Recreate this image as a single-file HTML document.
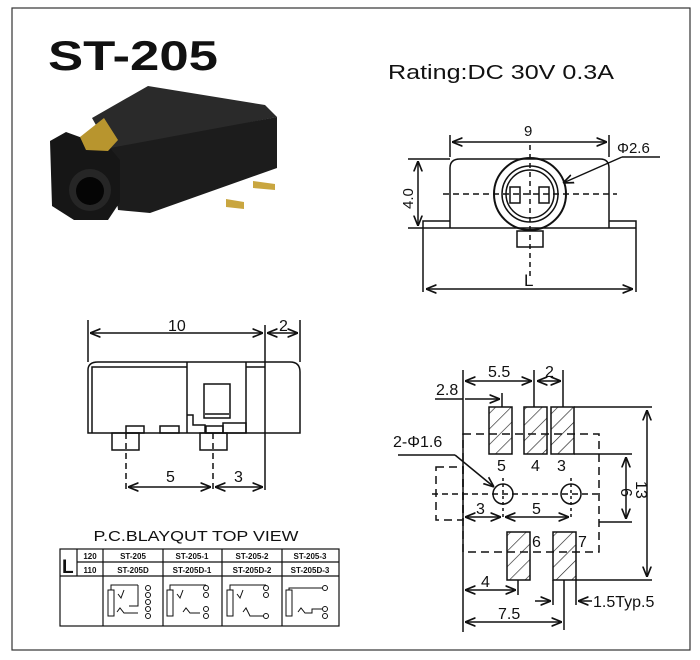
<!DOCTYPE html>
<html><head><meta charset="utf-8"><style>
html,body{margin:0;padding:0;background:#fff}
svg{display:block}
text{font-family:"Liberation Sans",Arial,sans-serif;fill:#111}
</style></head><body>
<svg width="700" height="660" viewBox="0 0 700 660" xmlns="http://www.w3.org/2000/svg">
<defs>
<marker id="a" viewBox="0 0 10 10" refX="10" refY="5" markerWidth="7" markerHeight="7" orient="auto-start-reverse"><path d="M0,1 L10,5 L0,9" fill="none" stroke="#111" stroke-width="1.6"/></marker>
<pattern id="h" width="11" height="11" patternUnits="userSpaceOnUse" patternTransform="rotate(45)"><line x1="0" y1="0" x2="0" y2="11" stroke="#222" stroke-width="1.3"/></pattern>
</defs>
<rect x="12" y="8" width="678" height="642" fill="none" stroke="#333" stroke-width="1.2"/>
<text x="48" y="70" font-size="42" font-weight="bold" textLength="170" lengthAdjust="spacingAndGlyphs">ST-205</text>
<text x="388" y="79" font-size="20" textLength="226" lengthAdjust="spacingAndGlyphs">Rating:DC 30V 0.3A</text>

<!-- photo -->
<g>
<polygon points="92,118 148,86 265,105 277,117 110,150" fill="#2a2a2a"/>
<polygon points="110,148 277,117 277,168 150,213 118,210" fill="#1c1c1c"/>
<polygon points="50,141 66,132 110,148 120,160 120,202 108,220 74,220 52,206" fill="#161616"/>
<polygon points="80,137 104,118 118,140 108,151 86,150" fill="#b8952e"/>
<circle cx="90" cy="190" r="21" fill="#262626"/>
<circle cx="90" cy="191" r="14" fill="#050505"/>
<polygon points="253,181 275,184 275,190 253,188" fill="#c9a640"/>
<polygon points="226,199 244,202 244,209 226,207" fill="#c9a640"/>
</g>

<!-- top-right view -->
<g stroke="#111" stroke-width="1.5" fill="none">
<path d="M450,228 V168 Q450,159 460,159 H600 Q609,159 609,168 V228"/>
<path d="M423,228 V221 H450 M609,221 H636 V228"/>
<path d="M423,228 H636 M423,228 V292 M636,228 V292"/>
<circle cx="530" cy="194" r="36" stroke-width="2"/>
<circle cx="530" cy="194" r="28"/>
<circle cx="530" cy="194" r="24"/>
<rect x="510" y="187" width="10" height="16"/>
<rect x="539" y="187" width="10" height="16"/>
<rect x="517" y="231" width="26" height="16"/>
<path d="M450,135 V157 M609,135 V157"/>
<line x1="452" y1="142" x2="607" y2="142" marker-start="url(#a)" marker-end="url(#a)"/>
<path d="M408,159 H450 M408,228 H423"/>
<line x1="418" y1="161" x2="418" y2="226" marker-start="url(#a)" marker-end="url(#a)"/>
<path d="M660,157 H622"/>
<line x1="622" y1="157" x2="563" y2="183" marker-end="url(#a)"/>
<line x1="426" y1="289" x2="633" y2="289" marker-start="url(#a)" marker-end="url(#a)"/>
<path d="M443,194 H617" stroke-dasharray="6,4"/>
<path d="M530,145 V280" stroke-dasharray="5,4"/>
</g>
<text x="524" y="136" font-size="15">9</text>
<text x="617" y="153" font-size="15">Φ2.6</text>
<text x="524" y="286" font-size="17">L</text>
<text x="0" y="0" font-size="15" transform="translate(413,209) rotate(-90)">4.0</text>

<!-- side view -->
<g stroke="#111" stroke-width="1.5" fill="none">
<path d="M88,433 V370 Q88,362 98,362 H290 Q300,362 300,372 V433 Z"/>
<path d="M92,433 V367 H187 M246,367 H265"/>
<path d="M187,362 V433 M246,362 V433"/>
<rect x="204" y="384" width="26" height="34"/>
<path d="M205,414 H229"/>
<path d="M187,415 H193 V425 H205 V433"/>
<rect x="206" y="426" width="17" height="7"/>
<rect x="223" y="423" width="23" height="10"/>
<rect x="126" y="426" width="18" height="7"/>
<rect x="160" y="426" width="19" height="7"/>
<rect x="112" y="433" width="27" height="17"/>
<rect x="200" y="433" width="27" height="17"/>
<path d="M88,320 V362 M300,320 V362 M265,325 V490"/>
<line x1="90" y1="333" x2="263" y2="333" marker-start="url(#a)" marker-end="url(#a)"/>
<line x1="267" y1="333" x2="298" y2="333" marker-start="url(#a)" marker-end="url(#a)"/>
<path d="M126,433 V490 M213,433 V490" stroke-dasharray="6,4"/>
<line x1="128" y1="487" x2="211" y2="487" marker-start="url(#a)" marker-end="url(#a)"/>
<line x1="215" y1="487" x2="263" y2="487" marker-start="url(#a)" marker-end="url(#a)"/>
</g>
<text x="168" y="331" font-size="16">10</text>
<text x="279" y="331" font-size="16">2</text>
<text x="166" y="482" font-size="16">5</text>
<text x="234" y="482" font-size="16">3</text>

<!-- table -->
<text x="196" y="541" font-size="15" text-anchor="middle" textLength="205" lengthAdjust="spacingAndGlyphs">P.C.BLAYQUT TOP VIEW</text>
<g stroke="#111" stroke-width="1.2" fill="none">
<rect x="60" y="549" width="279" height="77"/>
<path d="M60,576 H339 M77,562 H339 M77,549 V576 M103,549 V626 M163,549 V626 M222,549 V626 M282,549 V626"/>
<g stroke-width="1">
<rect x="108" y="590" width="6" height="26"/><path d="M111,590 V585 H138 M118,594 L121,598 L124,590 M138,585 V606 H129 M117,612 L120,608 L124,613 H138"/>
<circle cx="148" cy="588" r="2.5"/><circle cx="148" cy="595" r="2.5"/><circle cx="148" cy="602" r="2.5"/><circle cx="148" cy="609" r="2.5"/><circle cx="148" cy="616" r="2.5"/>
<rect x="167" y="590" width="6" height="26"/><path d="M170,590 V585 H206 M177,594 L180,598 L183,590 M183,612 L186,608 L190,613 H200"/>
<circle cx="206" cy="588" r="2.5"/><circle cx="206" cy="595" r="2.5"/><circle cx="206" cy="609" r="2.5"/><circle cx="206" cy="616" r="2.5"/>
<rect x="227" y="590" width="6" height="26"/><path d="M230,590 V585 H266 M237,594 L240,598 L243,590 M243,612 L246,608 L250,616 H264"/>
<circle cx="266" cy="588" r="2.5"/><circle cx="266" cy="595" r="2.5"/><circle cx="266" cy="616" r="2.5"/>
<rect x="286" y="590" width="6" height="26"/><path d="M289,590 V588 H322 M298,612 L301,608 L305,613 H312 V609 H322"/>
<circle cx="325" cy="588" r="2.5"/><circle cx="325" cy="609" r="2.5"/><circle cx="325" cy="616" r="2.5"/>
</g>
</g>
<text x="62" y="573" font-size="19" font-weight="bold">L</text>
<g font-size="8" font-weight="bold" text-anchor="middle">
<text x="90" y="559">120</text><text x="90" y="573">110</text>
<text x="133" y="559">ST-205</text><text x="133" y="573">ST-205D</text>
<text x="192" y="559">ST-205-1</text><text x="192" y="573">ST-205D-1</text>
<text x="252" y="559">ST-205-2</text><text x="252" y="573">ST-205D-2</text>
<text x="310" y="559">ST-205-3</text><text x="310" y="573">ST-205D-3</text>
</g>

<!-- PCB layout -->
<g stroke="#111" stroke-width="1.5" fill="none">
<rect x="463" y="434" width="136" height="118" stroke-dasharray="8,5"/>
<rect x="436" y="467" width="27" height="53" stroke-dasharray="8,5"/>
<rect x="489" y="407" width="23" height="47" fill="url(#h)"/>
<rect x="524" y="407" width="23" height="47" fill="url(#h)"/>
<rect x="551" y="407" width="23" height="47" fill="url(#h)"/>
<rect x="507" y="532" width="23" height="48" fill="url(#h)"/>
<rect x="553" y="532" width="23" height="48" fill="url(#h)"/>
<circle cx="503" cy="494" r="10"/><circle cx="571" cy="494" r="10"/>
<path d="M432,494 H600" stroke-dasharray="6,4"/>
<path d="M503,478 V520 M571,478 V520" stroke-dasharray="3,3"/>
<path d="M463,370 V632 M534,370 V407 M563,370 V407 M502,393 V407 M435,399 H463"/>
<line x1="465" y1="381" x2="532" y2="381" marker-start="url(#a)" marker-end="url(#a)"/>
<line x1="537" y1="381" x2="561" y2="381" marker-start="url(#a)" marker-end="url(#a)"/>
<line x1="465" y1="399" x2="500" y2="399" marker-end="url(#a)"/>
<path d="M574,407 H652 M574,454 H632 M599,522 H632 M576,580 H652"/>
<line x1="647" y1="410" x2="647" y2="577" marker-start="url(#a)" marker-end="url(#a)"/>
<line x1="626" y1="457" x2="626" y2="519" marker-start="url(#a)" marker-end="url(#a)"/>
<path d="M398,455 H455"/>
<line x1="455" y1="455" x2="494" y2="487" marker-end="url(#a)"/>
<line x1="465" y1="517" x2="501" y2="517" marker-start="url(#a)" marker-end="url(#a)"/>
<line x1="505" y1="517" x2="569" y2="517" marker-start="url(#a)" marker-end="url(#a)"/>
<path d="M518,580 V595 M564,580 V630 M553,580 V605 M576,580 V605"/>
<line x1="465" y1="590" x2="516" y2="590" marker-start="url(#a)" marker-end="url(#a)"/>
<line x1="465" y1="622" x2="562" y2="622" marker-start="url(#a)" marker-end="url(#a)"/>
<line x1="535" y1="601" x2="551" y2="601" marker-end="url(#a)"/>
<line x1="592" y1="601" x2="578" y2="601" marker-end="url(#a)"/>
</g>
<g font-size="16">
<text x="488" y="377">5.5</text><text x="545" y="377">2</text>
<text x="436" y="395">2.8</text><text x="393" y="447">2-Φ1.6</text>
<text x="497" y="471">5</text><text x="531" y="471">4</text><text x="557" y="471">3</text>
<text x="532" y="547">6</text><text x="578" y="547">7</text>
<text x="476" y="514">3</text><text x="532" y="514">5</text>
<text x="481" y="587">4</text><text x="498" y="619">7.5</text>
<text x="593" y="607">1.5Typ.5</text>
<text x="0" y="0" transform="translate(621,488) rotate(90)">6</text>
<text x="0" y="0" transform="translate(636,481) rotate(90)">13</text>
</g>
</svg>
</body></html>
